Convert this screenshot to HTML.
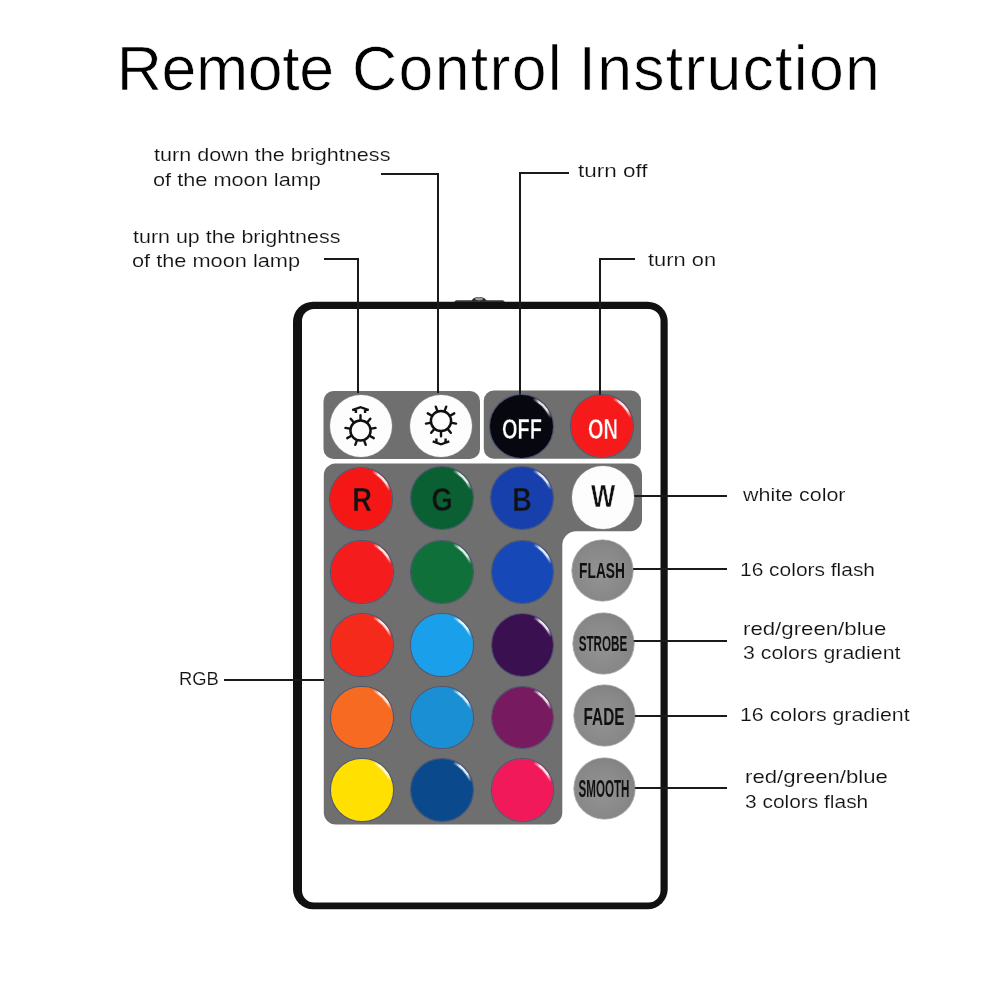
<!DOCTYPE html>
<html><head><meta charset="utf-8"><title>Remote Control Instruction</title>
<style>
html,body{margin:0;padding:0;background:#fff;}
body{width:1000px;height:1000px;position:relative;overflow:hidden;font-family:"Liberation Sans",sans-serif;}
.abs{position:absolute;left:0;top:0;}
.title{position:absolute;white-space:nowrap;line-height:1;color:#000;-webkit-text-stroke:0.7px #fff;}
.lb{position:absolute;white-space:nowrap;line-height:1;font-size:19.2px;color:#111;transform-origin:0 0;-webkit-text-stroke:0.15px #fff;}
.ln{position:absolute;background:#1a1a1a;}
.btn{position:absolute;border-radius:50%;background:radial-gradient(circle at 48% 48%, var(--c) 0%, var(--c) 80%, var(--r) 100%);box-shadow:0 0 0 1.1px rgba(55,68,120,.6);}
.btn::after{content:"";position:absolute;left:0;top:0;right:0;bottom:0;border-radius:50%;
  box-shadow:inset -1.8px 2px 1px rgba(255,255,255,.9);
  -webkit-mask-image:conic-gradient(from 0deg,transparent 0deg,transparent 22deg,#000 36deg,#000 58deg,transparent 74deg);mask-image:conic-gradient(from 0deg,transparent 0deg,transparent 22deg,#000 36deg,#000 58deg,transparent 74deg);}
.wb{background:radial-gradient(circle at 50% 50%, #fefefe 0%, #fcfcfc 80%, #e8e8ec 100%);box-shadow:0 0 0 0.7px rgba(150,155,170,.5);}
.gb{background:radial-gradient(circle at 45% 55%, #939393 0%, #878787 60%, #767676 100%);box-shadow:0 0 0 0.6px rgba(90,90,90,.6);}
.gb::after{display:none;}
.wb::after{display:none;}
.bt{position:absolute;width:200px;text-align:center;white-space:nowrap;line-height:1;font-weight:bold;transform-origin:100px 0;}
</style></head><body>
<svg class="abs" width="1000" height="1000" viewBox="0 0 1000 1000">
<rect x="293" y="301.7" width="374.7" height="607.5" rx="20" ry="20" fill="#111"/><rect x="302" y="308.9" width="358.5" height="593.7" rx="12" ry="12" fill="#fff"/>
<path d="M454 302 L505 302 L503 300.3 L456 300.3 Z" fill="#333"/><path d="M471.5 301 C473 295.5 485 295.5 486.5 301 Z" fill="#2a2a2a"/><ellipse cx="479" cy="298.8" rx="4" ry="1.6" fill="#9a9a9a"/>
<rect x="323.5" y="391" width="156.5" height="68" rx="10" fill="#6f6f6f"/>
<rect x="483.8" y="390.5" width="157.2" height="68.3" rx="10" fill="#6f6f6f"/>
<path d="M335.2 463.4 H630 A12 12 0 0 1 642 475.4 V519.2 A12 12 0 0 1 630 531.2 H576.3 A14 14 0 0 0 562.3 545.2 V812.5 A12 12 0 0 1 550.3 824.5 H335.8 A12 12 0 0 1 323.8 812.5 V475.4 A12 12 0 0 1 335.2 463.4 Z" fill="#6f6f6f"/>
</svg>
<div class="title" style="left:116.7px;top:37.0px;font-size:62.6px;letter-spacing:-0.34px">Remote</div>
<div class="title" style="left:352px;top:37.0px;font-size:62.6px;letter-spacing:1.33px">Control</div>
<div class="title" style="left:578.6px;top:37.0px;font-size:62.6px;letter-spacing:1.24px">Instruction</div>
<div class="lb" style="left:154.0px;top:144.8px;transform:scaleX(1.1253)">turn down the brightness</div>
<div class="lb" style="left:152.9px;top:169.8px;transform:scaleX(1.1329)">of the moon lamp</div>
<div class="lb" style="left:133.0px;top:226.8px;transform:scaleX(1.1172)">turn up the brightness</div>
<div class="lb" style="left:131.9px;top:251.3px;transform:scaleX(1.1336)">of the moon lamp</div>
<div class="lb" style="left:578.0px;top:160.9px;transform:scaleX(1.1710)">turn off</div>
<div class="lb" style="left:647.8px;top:249.8px;transform:scaleX(1.1399)">turn on</div>
<div class="lb" style="left:742.7px;top:484.8px;transform:scaleX(1.1173)">white color</div>
<div class="lb" style="left:739.9px;top:559.7px;transform:scaleX(1.0913)">16 colors flash</div>
<div class="lb" style="left:743.3px;top:618.7px;transform:scaleX(1.1581)">red/green/blue</div>
<div class="lb" style="left:743.3px;top:643.3px;transform:scaleX(1.1097)">3 colors gradient</div>
<div class="lb" style="left:739.9px;top:704.7px;transform:scaleX(1.1120)">16 colors gradient</div>
<div class="lb" style="left:744.5px;top:767.3px;transform:scaleX(1.1549)">red/green/blue</div>
<div class="lb" style="left:744.6px;top:792.3px;transform:scaleX(1.0902)">3 colors flash</div>
<div class="lb" style="left:178.6px;top:668.6px;transform:scaleX(0.9583)">RGB</div>
<div class="ln" style="left:323.5px;top:258.4px;width:35.2px;height:2px"></div>
<div class="ln" style="left:356.7px;top:258.4px;width:2px;height:134.6px"></div>
<div class="ln" style="left:380.8px;top:173.4px;width:58.0px;height:2px"></div>
<div class="ln" style="left:436.8px;top:173.4px;width:2px;height:219.6px"></div>
<div class="ln" style="left:518.5px;top:172.3px;width:50.8px;height:2px"></div>
<div class="ln" style="left:518.5px;top:172.3px;width:2px;height:224.7px"></div>
<div class="ln" style="left:599.0px;top:258.2px;width:36.0px;height:2px"></div>
<div class="ln" style="left:599.0px;top:258.2px;width:2px;height:138.8px"></div>
<div class="ln" style="left:634.0px;top:494.8px;width:93.0px;height:2px"></div>
<div class="ln" style="left:632.5px;top:567.9px;width:94.5px;height:2px"></div>
<div class="ln" style="left:633.0px;top:640.0px;width:94.0px;height:2px"></div>
<div class="ln" style="left:634.0px;top:715.0px;width:93.0px;height:2px"></div>
<div class="ln" style="left:634.0px;top:786.5px;width:93.0px;height:2px"></div>
<div class="ln" style="left:224.4px;top:678.5px;width:99.6px;height:2px"></div>
<div class="btn wb" style="left:330.0px;top:395.0px;width:62px;height:62px;--c:#fafafa;--r:#e6e6e6"></div><div class="btn wb" style="left:410.0px;top:395.0px;width:62px;height:62px;--c:#fafafa;--r:#e6e6e6"></div><div class="btn" style="left:490.2px;top:395.1px;width:62.5px;height:62.5px;--c:#07070f;--r:#141a30"></div><div class="btn" style="left:571.3px;top:394.8px;width:62px;height:62px;--c:#f61a1a;--r:#d01212"></div><div class="btn" style="left:330.3px;top:467.8px;width:62px;height:62px;--c:#f51616;--r:#d01010"></div><div class="btn" style="left:410.5px;top:467.4px;width:62px;height:62px;--c:#0a6032;--r:#08502a"></div><div class="btn" style="left:491.0px;top:467.2px;width:62px;height:62px;--c:#1840ad;--r:#14369a"></div><div class="btn wb" style="left:571.5px;top:466.4px;width:62.5px;height:62.5px;--c:#fbfbfb;--r:#e4e4ea"></div><div class="btn" style="left:331.4px;top:541.2px;width:61.5px;height:61.5px;--c:#f41c1c;--r:#d01414"></div><div class="btn" style="left:411.4px;top:541.2px;width:61.5px;height:61.5px;--c:#0f703a;--r:#0c5e30"></div><div class="btn" style="left:491.8px;top:541.2px;width:61.5px;height:61.5px;--c:#1748b8;--r:#133ea0"></div><div class="btn" style="left:331.4px;top:614.2px;width:61.5px;height:61.5px;--c:#f52a1a;--r:#d42014"></div><div class="btn" style="left:411.4px;top:614.2px;width:61.5px;height:61.5px;--c:#1aa0ea;--r:#1590d0"></div><div class="btn" style="left:491.8px;top:614.2px;width:61.5px;height:61.5px;--c:#3b1050;--r:#2c0a40"></div><div class="btn" style="left:331.4px;top:686.8px;width:61.5px;height:61.5px;--c:#f76a22;--r:#e05a1a"></div><div class="btn" style="left:411.4px;top:686.8px;width:61.5px;height:61.5px;--c:#1a8fd4;--r:#1580c0"></div><div class="btn" style="left:491.8px;top:686.8px;width:61.5px;height:61.5px;--c:#781a60;--r:#621450"></div><div class="btn" style="left:331.4px;top:759.2px;width:61.5px;height:61.5px;--c:#ffe000;--r:#f0d000"></div><div class="btn" style="left:411.4px;top:759.2px;width:61.5px;height:61.5px;--c:#0a4a8c;--r:#083e78"></div><div class="btn" style="left:491.8px;top:759.2px;width:61.5px;height:61.5px;--c:#f2195a;--r:#dc1450"></div><div class="btn gb" style="left:572.3px;top:540.0px;width:61px;height:61px;--c:#8e8e8e;--r:#7a7a7a"></div><div class="btn gb" style="left:572.5px;top:612.8px;width:61px;height:61px;--c:#8e8e8e;--r:#7a7a7a"></div><div class="btn gb" style="left:573.5px;top:684.7px;width:61px;height:61px;--c:#8e8e8e;--r:#7a7a7a"></div><div class="btn gb" style="left:573.5px;top:758.3px;width:61px;height:61px;--c:#8e8e8e;--r:#7a7a7a"></div>
<svg class="abs" width="1000" height="1000" viewBox="0 0 1000 1000"><circle cx="360.5" cy="430.5" r="10.1" fill="none" stroke="#111" stroke-width="2.5"/><path d="M360.50 419.50L360.50 415.20 M367.57 422.07L370.33 418.78 M371.33 428.59L375.57 427.84 M370.03 436.00L373.75 438.15 M364.26 440.84L365.73 444.88 M356.74 440.84L355.27 444.88 M350.97 436.00L347.25 438.15 M349.67 428.59L345.43 427.84 M353.43 422.07L350.67 418.78" stroke="#111" stroke-width="2.4" stroke-linecap="round" fill="none"/><path d="M352.20 410.20L360.50 407.20L368.80 410.20M355.90 408.60L355.90 412.90M365.10 408.60L365.10 412.90" stroke="#111" stroke-width="2.4" stroke-linecap="butt" stroke-linejoin="miter" fill="none"/><circle cx="441" cy="421.0" r="10.1" fill="none" stroke="#111" stroke-width="2.5"/><path d="M441.00 432.00L441.00 436.30 M433.93 429.43L431.17 432.72 M430.17 422.91L425.93 423.66 M431.47 415.50L427.75 413.35 M437.24 410.66L435.77 406.62 M444.76 410.66L446.23 406.62 M450.53 415.50L454.25 413.35 M451.83 422.91L456.07 423.66 M448.07 429.43L450.83 432.72" stroke="#111" stroke-width="2.4" stroke-linecap="round" fill="none"/><path d="M432.70 441.30L441.00 444.30L449.30 441.30M436.40 442.90L436.40 438.60M445.60 442.90L445.60 438.60" stroke="#111" stroke-width="2.4" stroke-linecap="butt" stroke-linejoin="miter" fill="none"/></svg>
<div class="bt" style="left:422.2px;top:412.8px;font-size:30.4px;color:#fff;transform:scaleX(0.66);-webkit-text-stroke:0.5px #07070f">OFF</div><div class="bt" style="left:502.7px;top:412.8px;font-size:30.4px;color:#fff;transform:scaleX(0.66);-webkit-text-stroke:0.5px #f61a1a">ON</div><div class="bt" style="left:262.0px;top:484.2px;font-size:32.8px;color:#111;transform:scaleX(0.83);-webkit-text-stroke:0.5px #f51616">R</div><div class="bt" style="left:341.8px;top:484.0px;font-size:32.8px;color:#111;transform:scaleX(0.83);-webkit-text-stroke:0.5px #0a6032">G</div><div class="bt" style="left:422.2px;top:483.7px;font-size:32.5px;color:#111;transform:scaleX(0.83);-webkit-text-stroke:0.5px #1840ad">B</div><div class="bt" style="left:502.7px;top:480.7px;font-size:31.3px;color:#111;transform:scaleX(0.82);-webkit-text-stroke:0.5px #fafafa">W</div><div class="bt" style="left:502.4px;top:559.4px;font-size:22.9px;color:#111;transform:scaleX(0.6)">FLASH</div><div class="bt" style="left:502.7px;top:632.1px;font-size:22.9px;color:#111;transform:scaleX(0.51)">STROBE</div><div class="bt" style="left:503.6px;top:706.4px;font-size:23.2px;color:#111;transform:scaleX(0.66)">FADE</div><div class="bt" style="left:504.4px;top:778.4px;font-size:23.2px;color:#111;transform:scaleX(0.5)">SMOOTH</div>
</body></html>
